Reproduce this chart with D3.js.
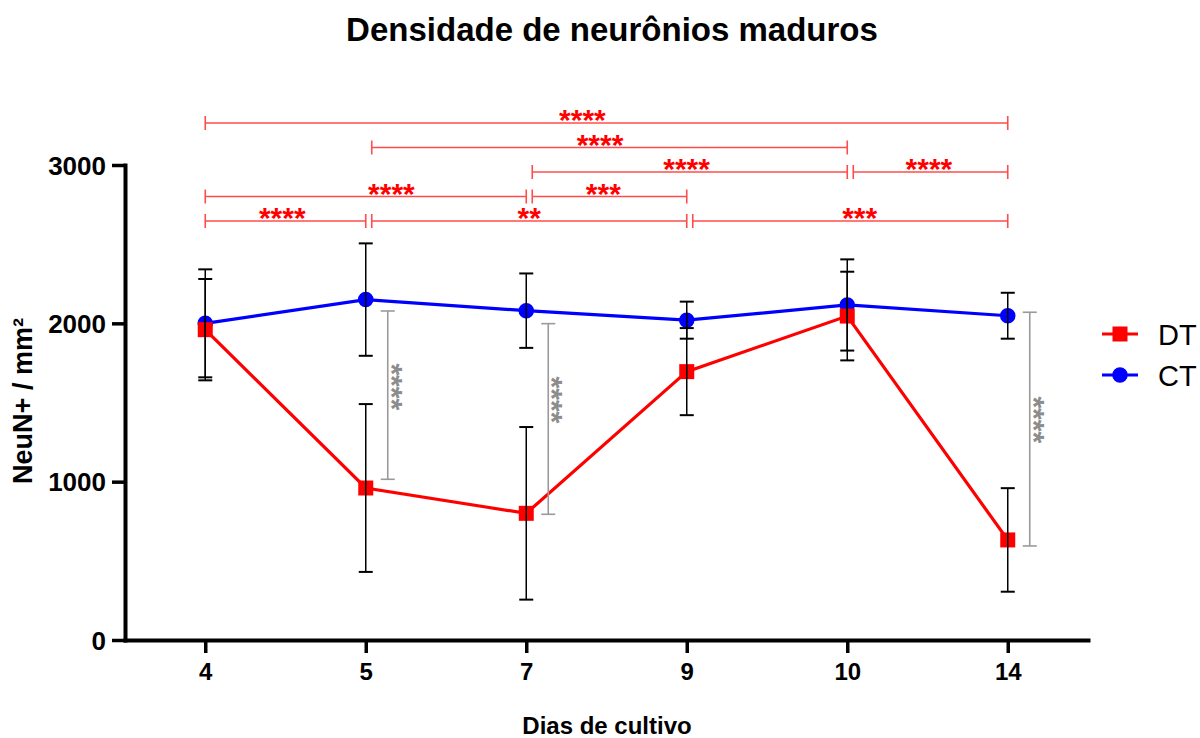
<!DOCTYPE html>
<html>
<head>
<meta charset="utf-8">
<script src="https://cdn.jsdelivr.net/npm/d3@7"></script>
<style>
    body { margin: 0; background: #ffffff; }
    svg { display: block; font-family: "Liberation Sans", Arial, sans-serif; }
</style>
</head>
<body>
<div id="canvas"></div>
<script>
// Chart data
const days = ["4", "5", "7", "9", "10", "14"];

const dtMean = [1960, 960, 800, 1695, 2046, 632];
const dtSd = [320, 530, 545, 275, 280, 327];

const ctMean = [2000, 2150, 2080, 2020, 2116, 2048];
const ctSd = [341, 355, 235, 117, 288, 145];

const yTicks = [0, 1000, 2000, 3000];

// DT vs DT comparisons between days (row = stacking level above the plot, at = label position along bracket)
const dtComparisons = [
    { from: "4", to: "14", row: 4, label: "****", at: 0.47 },
    { from: "5", to: "10", row: 3, label: "****", at: 0.48 },
    { from: "7", to: "10", row: 2, label: "****", at: 0.49 },
    { from: "10", to: "14", row: 2, label: "****", at: 0.49 },
    { from: "4", to: "7", row: 1, label: "****", at: 0.58 },
    { from: "7", to: "9", row: 1, label: "***", at: 0.46 },
    { from: "4", to: "5", row: 0, label: "****", at: 0.48 },
    { from: "5", to: "9", row: 0, label: "**", at: 0.5 },
    { from: "9", to: "14", row: 0, label: "***", at: 0.53 }
];

// DT vs CT comparisons on the same day (bracket spans hi..lo in data units)
const dayComparisons = [
    { day: "5", hi: 2078, lo: 1015, label: "****", at: 0.45 },
    { day: "7", hi: 1998, lo: 794, label: "****", at: 0.40 },
    { day: "14", hi: 2070, lo: 594, label: "****", at: 0.46 }
];

const series = [
    { name: "DT", color: "#ff0000", mean: dtMean, sd: dtSd, symbol: "square" },
    { name: "CT", color: "#0000ff", mean: ctMean, sd: ctSd, symbol: "circle" }
];

render();

function symbolPath(s) {
    return d3.symbol()
        .type(s.symbol === "square" ? d3.symbolSquare : d3.symbolCircle)
        .size(s.symbol === "square" ? 225 : 190)();
}

function render() {
    const width = 1200;
    const height = 738;

    const svg = d3.select("#canvas").append("svg")
        .attr("width", width)
        .attr("height", height);

    const x = d3.scalePoint().domain(days).range([125, 1088]).padding(0.5);
    const y = d3.scaleLinear().domain([0, 3000]).range([640, 165]);
    const rowY = d3.scaleLinear().domain([0, 4]).range([221, 123]);

    // Title
    svg.append("text")
        .attr("x", 612)
        .attr("y", 41)
        .attr("text-anchor", "middle")
        .style("font-size", "33px")
        .style("font-weight", "bold")
        .text("Densidade de neurônios maduros");

    // AXES
    const yAxis = svg.append("g")
        .attr("transform", "translate(125,0)")
        .call(d3.axisLeft(y).tickValues(yTicks).tickFormat(d3.format("d"))
            .tickSize(13).tickSizeOuter(0).tickPadding(6));

    const xAxis = svg.append("g")
        .attr("transform", "translate(0,640)")
        .call(d3.axisBottom(x).tickSize(13).tickSizeOuter(0).tickPadding(10));

    [yAxis, xAxis].forEach(g => {
        g.select(".domain").attr("stroke", "#000").attr("stroke-width", 4).attr("stroke-linecap", "square");
        g.selectAll(".tick line").attr("stroke", "#000").attr("stroke-width", 3.5);
        g.selectAll(".tick text")
            .attr("fill", "#000")
            .style("font-family", "'Liberation Sans', Arial, sans-serif")
            .style("font-weight", "bold");
    });
    yAxis.selectAll(".tick text").style("font-size", "26px").attr("dy", "0.35em");
    xAxis.selectAll(".tick text").style("font-size", "24px");

    // Axis titles
    svg.append("text")
        .attr("transform", "translate(32,401) rotate(-90)")
        .attr("text-anchor", "middle")
        .style("font-size", "27px")
        .style("font-weight", "bold")
        .text("NeuN+ / mm²");

    svg.append("text")
        .attr("x", 607)
        .attr("y", 734)
        .attr("text-anchor", "middle")
        .style("font-size", "24px")
        .style("font-weight", "bold")
        .text("Dias de cultivo");

    // SERIES LINES
    const line = d3.line()
        .x((d, i) => x(days[i]))
        .y(d => y(d));

    series.slice().reverse().forEach(s => {
        svg.append("path")
            .datum(s.mean)
            .attr("fill", "none")
            .attr("stroke", s.color)
            .attr("stroke-width", 3.2)
            .attr("d", line);
    });

    // Markers (CT first, DT squares drawn on top)
    series.slice().reverse().forEach(s => {
        svg.append("g").selectAll("path")
            .data(s.mean)
            .join("path")
            .attr("transform", (d, i) => `translate(${x(days[i])},${y(d)})`)
            .attr("d", symbolPath(s))
            .attr("fill", s.color);
    });

    // Error bars (mean +/- SD), drawn above the markers
    const errG = svg.append("g").attr("stroke", "#000").attr("stroke-width", 1.5);
    series.forEach(s => {
        s.mean.forEach((m, i) => {
            const cx = x(days[i]);
            const top = y(m + s.sd[i]);
            const bot = y(m - s.sd[i]);
            errG.append("line").attr("x1", cx).attr("x2", cx).attr("y1", top).attr("y2", bot);
            errG.append("line").attr("x1", cx - 7).attr("x2", cx + 7).attr("y1", top).attr("y2", top).attr("stroke-width", 2);
            errG.append("line").attr("x1", cx - 7).attr("x2", cx + 7).attr("y1", bot).attr("y2", bot).attr("stroke-width", 2);
        });
    });

    // DT vs DT brackets above the plot
    const ends = new Set(dtComparisons.map(c => c.to));
    const brG = svg.append("g");
    dtComparisons.forEach(c => {
        const x0 = x(c.from) + (ends.has(c.from) ? 6 : 0);
        const x1 = x(c.to);
        const ly = rowY(c.row);
        const g = brG.append("g").attr("stroke", "#ff4d4d").attr("stroke-width", 1.6);
        g.append("line").attr("x1", x0).attr("x2", x1).attr("y1", ly).attr("y2", ly);
        g.append("line").attr("x1", x0).attr("x2", x0).attr("y1", ly - 7).attr("y2", ly + 7);
        g.append("line").attr("x1", x1).attr("x2", x1).attr("y1", ly - 7).attr("y2", ly + 7);
        brG.append("text")
            .attr("x", x0 + (x1 - x0) * c.at)
            .attr("y", ly + 7)
            .attr("text-anchor", "middle")
            .attr("fill", "#ff0000")
            .style("font-size", "30px")
            .style("font-weight", "bold")
            .text(c.label);
    });

    // DT vs CT brackets beside each day
    const dayG = svg.append("g");
    dayComparisons.forEach(c => {
        const lx = x(c.day) + 22;
        const top = y(c.hi);
        const bot = y(c.lo);
        const g = dayG.append("g").attr("stroke", "#9a9a9a").attr("stroke-width", 1.6);
        g.append("line").attr("x1", lx).attr("x2", lx).attr("y1", top).attr("y2", bot);
        g.append("line").attr("x1", lx - 7).attr("x2", lx + 7).attr("y1", top).attr("y2", top);
        g.append("line").attr("x1", lx - 7).attr("x2", lx + 7).attr("y1", bot).attr("y2", bot);
        dayG.append("text")
            .attr("transform", `translate(${lx - 6},${top + (bot - top) * c.at}) rotate(90)`)
            .attr("text-anchor", "middle")
            .attr("fill", "#8c8c8c")
            .style("font-size", "30px")
            .style("font-weight", "bold")
            .text(c.label);
    });

    // LEGEND
    const legend = svg.append("g");
    series.forEach((s, i) => {
        const ly = 334 + i * 41;
        legend.append("line")
            .attr("x1", 1102).attr("x2", 1138).attr("y1", ly).attr("y2", ly)
            .attr("stroke", s.color).attr("stroke-width", 3);
        legend.append("path")
            .attr("transform", `translate(1120,${ly})`)
            .attr("d", symbolPath(s))
            .attr("fill", s.color);
        legend.append("text")
            .attr("x", 1158)
            .attr("y", ly + 11)
            .style("font-size", "29px")
            .text(s.name);
    });
}
</script>
</body>
</html>
